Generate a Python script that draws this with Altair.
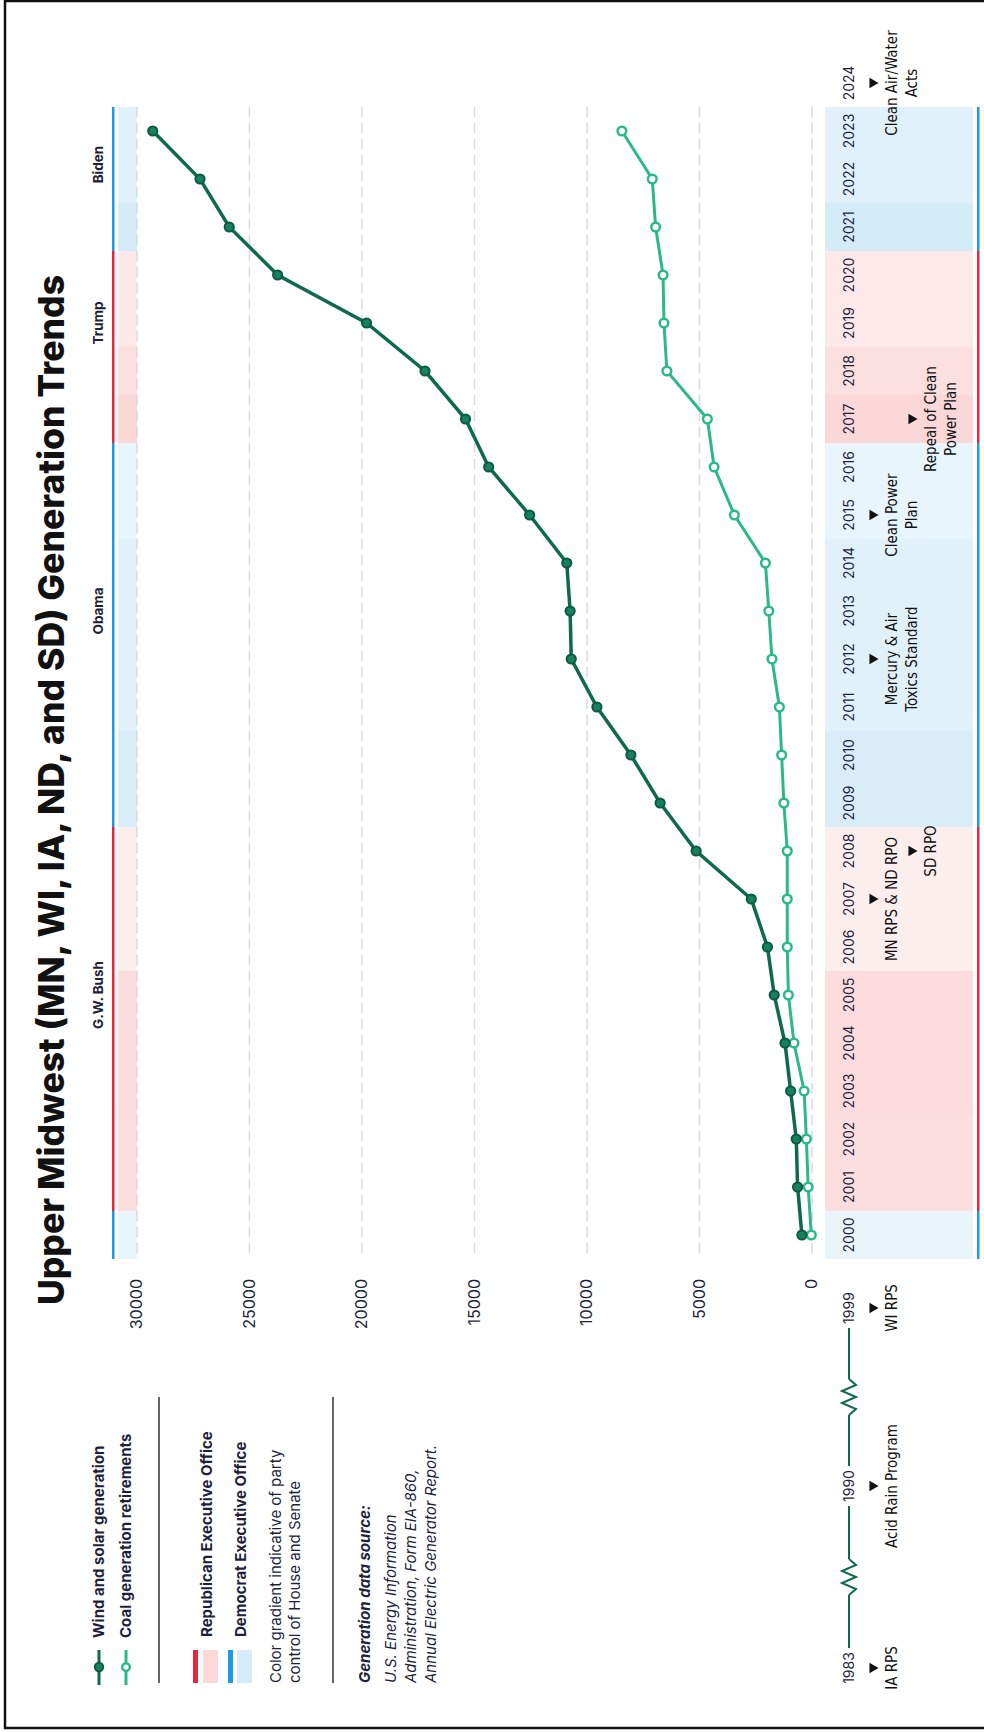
import altair as alt
import pandas as pd

# ---------------- data ----------------
years = list(range(2000, 2024))
wind_solar_gen = [450, 640, 700, 950, 1200, 1680, 1980, 2700, 5150, 6750, 8050, 9560,
                  10700, 10750, 10900, 12550, 14370, 15400, 17200, 19800, 23750, 25900, 27200, 29300]
coal_retirements = [30, 170, 250, 350, 800, 1050, 1100, 1100, 1100, 1250, 1350, 1450,
                    1780, 1920, 2070, 3450, 4350, 4650, 6450, 6580, 6620, 6950, 7100, 8450]
value_ticks = [0, 5000, 10000, 15000, 20000, 25000, 30000]
axis_years = list(range(2000, 2025))

president_names = ["", "G.W. Bush", "Obama", "Trump", "Biden"]
term_first = [2000, 2001, 2009, 2017, 2021]
term_last = [2000, 2008, 2016, 2020, 2023]
term_label_end = [2001, 2009, 2017, 2021, 2023.6]
term_party = ["D", "R", "D", "R", "D"]

# band shade per year: executive party, deeper when Congress is held by the same party
year_shade = ["#eaf5fb",
              "#fcdede", "#fcdede", "#fcdcdc", "#fcdcdc", "#fcdcdc",
              "#fdeeee", "#fdeeee", "#fdeeee",
              "#d9edf9", "#d9edf9", "#e1f1fa", "#e1f1fa", "#e1f1fa", "#e1f1fa",
              "#e8f5fc", "#e8f5fc",
              "#fbd7d7", "#fcdfdf", "#fde9e9", "#fde9e9",
              "#d4ebf8", "#e1f1fb", "#e1f1fb"]

event_years = [2007, 2008, 2012, 2015, 2017, 2024]
event_labels = [["MN RPS & ND RPO"], ["SD RPO"], ["Mercury & Air", "Toxics Standard"],
                ["Clean Power", "Plan"], ["Repeal of Clean", "Power Plan"],
                ["Clean Air/Water", "Acts"]]
event_tier = [0, 1, 0, 0, 1, 0]

early_years = ["1999", "1990", "1983"]
early_labels = ["WI RPS", "Acid Rain Program", "IA RPS"]

# ---------------- styling / layout ----------------
W, H = 984, 1732
FONT = "Inter"
NARROW = "'Liberation Sans Narrow', 'DejaVu Sans Condensed', Roboto, sans-serif"
NAVY = "#1d1f3c"
DARK_GREEN = "#0e6a4e"
TEAL = "#2bb98c"
RED = "#e8283a"
BLUE = "#1a9be6"

ZERO_PX, PX_PER_UNIT = 812, 112.5 / 5000
ROW_PX, LAST_ROW_PX = 48, 131

XS = alt.Scale(domain=[(ZERO_PX - W) / PX_PER_UNIT, ZERO_PX / PX_PER_UNIT],
               reverse=True, nice=False, zero=False)
YS = alt.Scale(domain=[2023 - (H - LAST_ROW_PX) / ROW_PX, 2023 + LAST_ROW_PX / ROW_PX],
               nice=False, zero=False)


def X(field):
    return alt.X(field, type="quantitative", scale=XS, axis=None)


def Y(field):
    return alt.Y(field, type="quantitative", scale=YS, axis=None)


ONE = pd.DataFrame({"k": [0]})


def label(text, x, y, size=15, weight="normal", style="normal", align="center",
          baseline="middle", color=NAVY, font=FONT):
    return alt.Chart(ONE).mark_text(
        text=text, angle=270, align=align, baseline=baseline, fontSize=size,
        fontWeight=weight, fontStyle=style, color=color, font=font
    ).encode(x=alt.value(x), y=alt.value(y))


y_top = max(years) + 0.5
y_bot = min(years) - 0.5

# ---------------- tables ----------------
rows = pd.DataFrame({"yr": years, "shade": year_shade})
rows["y0"] = rows["yr"] - 0.5
rows["y1"] = rows["yr"] + 0.5

terms = pd.DataFrame({"name": president_names, "first": term_first, "last": term_last,
                      "lend": term_label_end, "party": term_party})
terms["y0"] = terms["first"] - 0.5
terms["y1"] = terms["last"] + 0.5
terms["mid"] = (terms["first"] + terms["lend"]) / 2
terms["col"] = terms["party"].map({"D": BLUE, "R": RED})

grid = pd.DataFrame({"v": value_ticks, "top": y_top, "bot": y_bot})
series = pd.DataFrame({"yr": years, "wind": wind_solar_gen, "coal": coal_retirements})
ylabels = pd.DataFrame({"yr": axis_years, "t": [str(y) for y in axis_years]})

TRI_X = [874, 913]
ev_rows = []
for yr, lines, tier in zip(event_years, event_labels, event_tier):
    for i, line in enumerate(lines):
        ev_rows.append({"yr": yr, "t": line, "px": TRI_X[tier] + 18 + 20 * i})
events = pd.DataFrame(ev_rows)
ev_marks = pd.DataFrame({"yr": event_years, "px": [TRI_X[t] for t in event_tier]})

# ---------------- layers ----------------
frame = alt.Chart(ONE).mark_rect(fillOpacity=0, stroke="#111111", strokeWidth=2.5).encode(
    x=alt.value(5), x2=alt.value(W + 10), y=alt.value(1), y2=alt.value(1728))

band_left = alt.Chart(rows).mark_rect().encode(
    x=alt.value(118), x2=alt.value(137), y=Y("y0"), y2="y1",
    color=alt.Color("shade:N", scale=None))
band_right = alt.Chart(rows).mark_rect().encode(
    x=alt.value(825), x2=alt.value(973), y=Y("y0"), y2="y1",
    color=alt.Color("shade:N", scale=None))

term_left = alt.Chart(terms).mark_rect().encode(
    x=alt.value(112), x2=alt.value(114.5), y=Y("y0"), y2="y1",
    color=alt.Color("col:N", scale=None))
term_right = alt.Chart(terms).mark_rect().encode(
    x=alt.value(977), x2=alt.value(979.5), y=Y("y0"), y2="y1",
    color=alt.Color("col:N", scale=None))

term_names = alt.Chart(terms[terms["name"] != ""]).mark_text(
    angle=270, fontSize=13.5, fontWeight="bold", font=FONT, color=NAVY, baseline="middle"
).encode(x=alt.value(99), y=Y("mid"), text="name:N")

gridlines = alt.Chart(grid).mark_rule(color="#d9d9d9", strokeWidth=1.5, strokeDash=[10, 6]).encode(
    x=X("v"), y=Y("top"), y2="bot")

value_labels = alt.Chart(grid).mark_text(
    angle=270, align="right", baseline="middle", fontSize=16, font=FONT, color=NAVY
).encode(x=X("v"), y=alt.value(1279), text="v:Q")

year_labels = alt.Chart(ylabels).mark_text(
    angle=270, baseline="middle", fontSize=14, font=FONT, color=NAVY
).encode(x=alt.value(850), y=Y("yr"), text="t:N")

wind_line = alt.Chart(series).mark_line(color=DARK_GREEN, strokeWidth=3.5).encode(
    x=X("wind"), y=Y("yr"), order="yr:Q")
wind_pts = alt.Chart(series).mark_point(
    filled=True, fill="#17805d", stroke="#0b5a41", strokeWidth=2, size=85, opacity=1
).encode(x=X("wind"), y=Y("yr"))
coal_line = alt.Chart(series).mark_line(color=TEAL, strokeWidth=3).encode(
    x=X("coal"), y=Y("yr"), order="yr:Q")
coal_pts = alt.Chart(series).mark_point(
    filled=True, fill="white", stroke=TEAL, strokeWidth=2.5, size=75, opacity=1
).encode(x=X("coal"), y=Y("yr"))

event_tri = alt.Chart(ev_marks).mark_point(
    shape="triangle-right", filled=True, color="#111111", size=110, opacity=1
).encode(x=alt.X("px:Q", scale=None), y=Y("yr"))
event_txt = alt.Chart(events).mark_text(
    angle=270, baseline="middle", fontSize=15, font=NARROW, color="#111111"
).encode(x=alt.X("px:Q", scale=None), y=Y("yr"), text="t:N")

# broken timeline reaching back before 2000
EARLY_Y = [1308, 1486, 1668]
TL_X = 849
early_layers = []
for yy, yt, lt in zip(EARLY_Y, early_years, early_labels):
    early_layers.append(label(yt, 850, yy, size=14))
    early_layers.append(alt.Chart(ONE).mark_point(
        shape="triangle-right", filled=True, color="#111111", size=110, opacity=1
    ).encode(x=alt.value(874), y=alt.value(yy)))
    early_layers.append(label(lt, 892, yy, size=15, font=NARROW, color="#111111"))

seg_rows, zig_rows = [], []
for k, (a, b) in enumerate(zip(EARLY_Y[:-1], EARLY_Y[1:])):
    mid = (a + b) / 2
    seg_rows.append({"y0": a + 20, "y1": mid - 18})
    seg_rows.append({"y0": mid + 18, "y1": b - 20})
    offsets = [0, 7, -7, 7, -7, 7, 0]
    for i, off in enumerate(offsets):
        zig_rows.append({"g": k, "i": i, "px": TL_X + off, "py": mid - 18 + i * 6})
segs = pd.DataFrame(seg_rows)
zigs = pd.DataFrame(zig_rows)
tl_segs = alt.Chart(segs).mark_rule(color=DARK_GREEN, strokeWidth=2).encode(
    x=alt.value(TL_X), y=alt.Y("y0:Q", scale=None), y2="y1")
tl_zig = alt.Chart(zigs).mark_line(color=DARK_GREEN, strokeWidth=2).encode(
    x=alt.X("px:Q", scale=None), y=alt.Y("py:Q", scale=None), detail="g:N", order="i:Q")

# legend
LEG_TOP, LEG_BOT = 1397, 1683
legend = [
    alt.Chart(ONE).mark_rule(color=DARK_GREEN, strokeWidth=3).encode(
        x=alt.value(99), y=alt.value(1650), y2=alt.value(1685)),
    alt.Chart(ONE).mark_point(filled=True, fill="#17805d", stroke="#0b5a41", strokeWidth=2,
                              size=70, opacity=1).encode(x=alt.value(99), y=alt.value(1667)),
    alt.Chart(ONE).mark_rule(color=TEAL, strokeWidth=3).encode(
        x=alt.value(126), y=alt.value(1650), y2=alt.value(1685)),
    alt.Chart(ONE).mark_point(filled=True, fill="white", stroke=TEAL, strokeWidth=2.5,
                              size=60, opacity=1).encode(x=alt.value(126), y=alt.value(1667)),
    label("Wind and solar generation", 99, 1638, weight="bold", align="left"),
    label("Coal generation retirements", 126, 1638, weight="bold", align="left"),
    alt.Chart(ONE).mark_rule(color="#333333", strokeWidth=1.5).encode(
        x=alt.value(159), y=alt.value(LEG_TOP), y2=alt.value(LEG_BOT)),
    alt.Chart(ONE).mark_rect(color=RED).encode(
        x=alt.value(193), x2=alt.value(198), y=alt.value(1650), y2=alt.value(1683)),
    alt.Chart(ONE).mark_rect(color="#fcd8d8").encode(
        x=alt.value(203), x2=alt.value(218), y=alt.value(1650), y2=alt.value(1683)),
    alt.Chart(ONE).mark_rect(color=BLUE).encode(
        x=alt.value(228), x2=alt.value(233), y=alt.value(1650), y2=alt.value(1683)),
    alt.Chart(ONE).mark_rect(color="#d6ecf8").encode(
        x=alt.value(237), x2=alt.value(252), y=alt.value(1650), y2=alt.value(1683)),
    label("Republican Executive Office", 207, 1637, weight="bold", align="left"),
    label("Democrat Executive Office", 241, 1637, weight="bold", align="left"),
    label("Color gradient indicative of party", 276, 1683, align="left"),
    label("control of House and Senate", 295, 1683, align="left"),
    alt.Chart(ONE).mark_rule(color="#333333", strokeWidth=1.5).encode(
        x=alt.value(333), y=alt.value(LEG_TOP), y2=alt.value(LEG_BOT)),
    label("Generation data source:", 365, 1683, weight="bold", style="italic", align="left"),
    label("U.S. Energy Information", 391, 1683, style="italic", align="left"),
    label("Administration, Form EIA-860,", 411, 1683, style="italic", align="left"),
    label("Annual Electric Generator Report.", 431, 1683, style="italic", align="left"),
]

title = label("Upper Midwest (MN, WI, IA, ND, and SD) Generation Trends", 64, 790,
              size=35.5, weight=800, baseline="alphabetic", color="#111111")

chart = alt.layer(
    band_left, band_right, gridlines, term_left, term_right,
    coal_line, wind_line, coal_pts, wind_pts,
    value_labels, year_labels, term_names, event_tri, event_txt,
    tl_segs, tl_zig, *early_layers, *legend, title, frame,
).properties(
    width=W, height=H, padding=0,
    autosize=alt.AutoSizeParams(type="none"),
    background="white",
).configure_view(stroke=None)

chart.save("out.html", embed_options={"renderer": "svg", "actions": False})
